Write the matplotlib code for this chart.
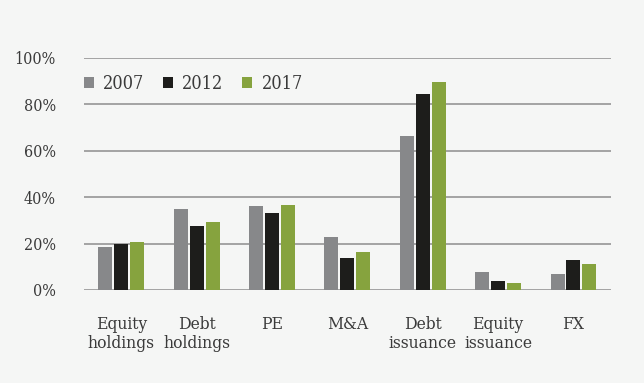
import numpy as np
import matplotlib.pyplot as plt
from matplotlib.ticker import FuncFormatter

categories = ["Equity\nholdings", "Debt\nholdings", "PE", "M&A",
              "Debt\nissuance", "Equity\nissuance", "FX"]
years = ["2007", "2012", "2017"]
v2007 = [18.5, 35.0, 36.2, 22.8, 66.4, 7.8, 6.9]
v2012 = [20.0, 27.6, 33.2, 13.8, 84.5, 3.9, 12.9]
v2017 = [20.7, 29.3, 36.6, 16.4, 89.7, 3.0, 11.2]
colors = ["#87888a", "#1d1d1b", "#86a33e"]

bg = "#f5f6f5"
plt.rcParams['font.family'] = ['DejaVu Serif']
plt.rcParams['font.stretch'] = 'condensed'

fig = plt.figure(figsize=(6.44, 3.83), dpi=100, facecolor=bg)
ax = fig.add_axes([0.130, 0.243, 0.819, 0.606], facecolor=bg)

x = np.arange(len(categories))
w = 0.186
step = 0.212
for i, (vals, yr) in enumerate(zip([v2007, v2012, v2017], years)):
    ax.bar(x + (i - 1) * step, vals, width=w, color=colors[i], label=yr, zorder=3)

ax.set_ylim(0, 100)
ax.set_xlim(-0.5, len(categories) - 0.5)
ax.set_yticks(range(0, 101, 20))
ax.yaxis.set_major_formatter(FuncFormatter(lambda v, p: f"{int(v)}%"))
ax.grid(axis='y', color="#959595", lw=1.2, zorder=0)
for s in ax.spines.values():
    s.set_visible(False)
ax.tick_params(length=0)
ax.tick_params(axis='y', labelsize=11.5, colors="#3a3a3a", pad=20)
ax.set_xticks(x)
ax.set_xticklabels(categories, fontsize=12.5, color="#3a3a3a", linespacing=1.1)
ax.tick_params(axis='x', pad=19)

leg = ax.legend(loc='center left', bbox_to_anchor=(-0.03, 0.888), ncol=3,
                frameon=False, fontsize=13, handlelength=0.55, handleheight=0.55,
                handletextpad=0.5, columnspacing=1.05)
for t in leg.get_texts():
    t.set_color("#3a3a3a")

fig.savefig("out.png", dpi=100, facecolor=bg)
